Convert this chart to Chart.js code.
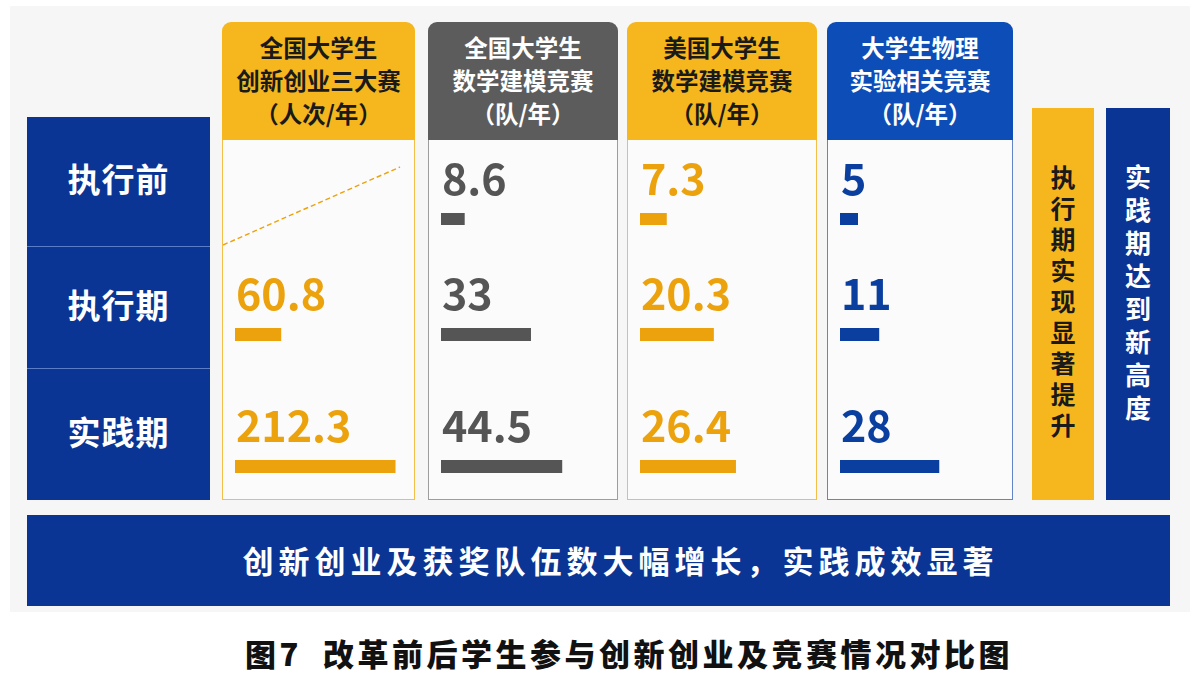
<!DOCTYPE html>
<html>
<head>
<meta charset="utf-8">
<script src="https://cdn.jsdelivr.net/npm/chart.js@4.4.1/dist/chart.umd.min.js"></script>
<style>
  body { margin: 0; width: 1204px; height: 691px; background: #fff; position: relative; overflow: hidden;
         font-family: "Noto Sans CJK SC", "Noto Sans", sans-serif; }
  .panel { position: absolute; left: 10px; top: 6px; width: 1180px; height: 606px; background: #f6f6f6; }
  .abs { position: absolute; box-sizing: border-box; }
  .rowlab { background: #0a3594; color: #fff; font-weight: 700; font-size: 33px; display: flex;
            align-items: center; justify-content: center; letter-spacing: 1px; padding-bottom: 8px; }
  .head { border-radius: 9px 9px 0 0; font-weight: 700; font-size: 23.5px; line-height: 33px; text-align: center;
          padding-top: 9px; }
  .cell { background: #fbfbfb; }
  .vert { writing-mode: vertical-rl; text-orientation: upright; font-weight: 700; font-size: 25px;
          letter-spacing: 6px; display: flex; align-items: center; justify-content: center; }
  .banner { background: #0a3594; color: #fff; font-weight: 700; font-size: 31px; letter-spacing: 5px;
            display: flex; align-items: center; justify-content: center; padding-left: 44px; padding-bottom: 2px; }
  .caption { font-weight: 900; font-size: 31px; color: #111; text-align: center; letter-spacing: 3.5px; }
</style>
</head>
<body>
<div class="panel"></div>
<div id="board"></div>
<script>
// rows (periods) and columns (competitions)
const rowLabels = ['执行前', '执行期', '实践期'];
const headers = [
  ['全国大学生', '创新创业三大赛', '（人次/年）'],
  ['全国大学生', '数学建模竞赛', '（队/年）'],
  ['美国大学生', '数学建模竞赛', '（队/年）'],
  ['大学生物理', '实验相关竞赛', '（队/年）']
];
// values per column, one per period (null = no data)
const innovation = [null, 60.8, 212.3];
const cumcm = [8.6, 33, 44.5];
const mcm = [7.3, 20.3, 26.4];
const physics = [5, 11, 28];
const axisMax = [220, 60, 45, 45];

const sideNotes = ['执行期实现显著提升', '实践期达到新高度'];
const bannerText = '创新创业及获奖队伍数大幅增长，实践成效显著';
const captionText = '图7  改革前后学生参与创新创业及竞赛情况对比图';

const series = [innovation, cumcm, mcm, physics];

// layout / style
const colX = [222, 428, 627, 827];
const colW = [193, 190, 190, 186];
const headTop = 22, headH = 118;
const rowTop = [140, 246, 368], rowH = [106, 122, 132];
const barPad = [{ top: 73, bottom: 20 }, { top: 82, bottom: 26 }, { top: 92, bottom: 26 }];
const styles = [
  { head: '#f6b71e', headText: '#1a1a1a', border: '#f2bf48', ink: '#eba20c' },
  { head: '#5c5c5c', headText: '#ffffff', border: '#9d9d9d', ink: '#555555' },
  { head: '#f6b71e', headText: '#1a1a1a', border: '#f2bf48', ink: '#eba20c' },
  { head: '#0d4db7', headText: '#ffffff', border: '#6384c6', ink: '#0b3f9f' }
];

const board = document.getElementById('board');
function box(cls, x, y, w, h, css) {
  const d = document.createElement('div');
  d.className = 'abs ' + cls;
  Object.assign(d.style, { left: x + 'px', top: y + 'px', width: w + 'px', height: h + 'px' }, css || {});
  board.appendChild(d);
  return d;
}

// row labels
const labTops = [117, 246, 368];
rowLabels.forEach((t, i) => {
  const b = box('rowlab', 27, labTops[i], 183, (i < 2 ? labTops[i + 1] : 500) - labTops[i],
    i > 0 ? { borderTop: '1px solid #5b7cc6' } : {});
  b.textContent = t;
});

const valueLabel = {
  id: 'valueLabel',
  afterDatasetsDraw(chart, args, opts) {
    const bar = chart.getDatasetMeta(0).data[0];
    const v = chart.data.datasets[0].data[0];
    const ctx = chart.ctx;
    ctx.save();
    ctx.font = 'bold 43px "Noto Sans CJK SC", "Noto Sans", sans-serif';
    ctx.fillStyle = opts.color;
    ctx.textBaseline = 'alphabetic';
    ctx.fillText(String(v), chart.chartArea.left + 1, bar.y - bar.height / 2 - 18);
    ctx.restore();
  }
};

headers.forEach((lines, c) => {
  const s = styles[c];
  const h = box('head', colX[c], headTop, colW[c], headH, { background: s.head, color: s.headText });
  h.innerHTML = lines.join('<br>');
  rowLabels.forEach((r, i) => {
    const cell = box('cell', colX[c], rowTop[i], colW[c], rowH[i] + (i === 2 ? 0 : 1), {
      borderLeft: '1.5px solid ' + s.border, borderRight: '1.5px solid ' + s.border,
      borderBottom: (i === 2 ? '1.5px' : '1px') + ' solid ' + s.border
    });
    const v = series[c][i];
    if (v === null) {
      cell.innerHTML = '<svg width="100%" height="100%" style="position:absolute;left:0;top:0">' +
        '<line x1="0" y1="' + (rowH[i] - 1) + '" x2="177" y2="27" stroke="' + s.ink +
        '" stroke-width="1.4" stroke-dasharray="5 3"/></svg>';
      return;
    }
    const cv = document.createElement('canvas');
    const w = colW[c] - 3, hh = rowH[i] - 1;
    cv.width = w; cv.height = hh;
    Object.assign(cv.style, { position: 'absolute', left: '0px', top: '0px', width: w + 'px', height: hh + 'px' });
    cell.appendChild(cv);
    new Chart(cv.getContext('2d'), {
      type: 'bar',
      data: {
        labels: [r],
        datasets: [{ data: [v], backgroundColor: s.ink, borderWidth: 0, barPercentage: 1, categoryPercentage: 1 }]
      },
      options: {
        indexAxis: 'y',
        responsive: false,
        animation: false,
        layout: { padding: { left: 12, right: 12, top: barPad[i].top, bottom: barPad[i].bottom } },
        scales: {
          x: { display: false, min: 0, max: axisMax[c] },
          y: { display: false }
        },
        plugins: { legend: { display: false }, tooltip: { enabled: false }, valueLabel: { color: s.ink } }
      },
      plugins: [valueLabel]
    });
  });
});

// side notes
const g = box('vert', 1032, 108, 62, 392, { background: '#f6b71e', color: '#1a1a1a' });
g.textContent = sideNotes[0];
const bl = box('vert', 1106, 108, 64, 392, { background: '#0a3594', color: '#fff', fontSize: '26px',
  letterSpacing: '7px', paddingBottom: '16px' });
bl.textContent = sideNotes[1];

const bn = box('banner', 27, 515, 1143, 91);
bn.textContent = bannerText;
const cap = box('caption', 0, 630, 1258, 50);
cap.style.whiteSpace = 'pre';
cap.textContent = captionText;
</script>
</body>
</html>
